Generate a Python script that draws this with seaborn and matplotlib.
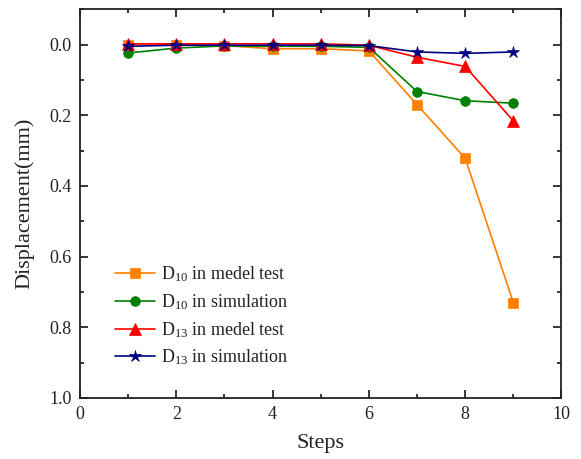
import matplotlib
matplotlib.use("Agg")
import matplotlib.pyplot as plt
import seaborn as sns
import pandas as pd
from matplotlib.ticker import MultipleLocator

steps = [1, 2, 3, 4, 5, 6, 7, 8, 9]
d10_test = [0.000, 0.000, 0.003, 0.012, 0.012, 0.018, 0.170, 0.322, 0.730]
d10_sim = [0.024, 0.010, 0.004, 0.005, 0.005, 0.008, 0.133, 0.159, 0.166]
d13_test = [-0.002, -0.002, -0.002, -0.002, -0.002, 0.002, 0.036, 0.062, 0.216]
d13_sim = [0.005, 0.002, 0.002, 0.002, 0.002, 0.003, 0.021, 0.025, 0.021]
labels = ["D$_{10}$ in medel test", "D$_{10}$ in simulation",
          "D$_{13}$ in medel test", "D$_{13}$ in simulation"]

sns.set_theme(style="ticks")
plt.rcParams["font.family"] = ["Liberation Serif", "DejaVu Serif"]
plt.rcParams["mathtext.fontset"] = "custom"
plt.rcParams["mathtext.rm"] = "Liberation Serif"
plt.rcParams["mathtext.it"] = "Liberation Serif:italic"

fig = plt.figure(figsize=(5.81, 4.59), dpi=100)
ax = fig.add_axes([0.1377, 0.133, 0.8287, 0.847])

series = [d10_test, d10_sim, d13_test, d13_sim]
colors = ["#FF8000", "#008000", "#FF0000", "#000080"]
markers = ["s", "o", "^", "*"]
msizes = [6.5, 7, 8, 9]
for vals, lab, c, m, ms in zip(series, labels, colors, markers, msizes):
    df = pd.DataFrame({"Steps": steps, "Displacement": vals})
    sns.lineplot(data=df, x="Steps", y="Displacement", ax=ax, color=c,
                 marker=m, markersize=ms, markeredgecolor=c,
                 markeredgewidth=0.5, linewidth=1.2, label=lab)

ax.set_xlim(0, 10)
ax.set_ylim(1.0, -0.1)
ax.xaxis.set_major_locator(MultipleLocator(2))
ax.xaxis.set_minor_locator(MultipleLocator(1))
ax.yaxis.set_major_locator(MultipleLocator(0.2))
ax.yaxis.set_minor_locator(MultipleLocator(0.1))
ax.set_yticks([0.0, 0.2, 0.4, 0.6, 0.8, 1.0])
ax.set_yticklabels(["0.0", "0.2", "0.4", "0.6", "0.8", "1.0"])
ax.tick_params(which="both", direction="in", top=True, right=True,
               labelsize=13, color="black", labelcolor="#222222", pad=6)
ax.tick_params(which="major", length=5.5, width=1.1)
ax.tick_params(which="minor", length=3, width=1.1)
for s in ax.spines.values():
    s.set_color("#222222")
    s.set_linewidth(1.3)

ax.set_xlabel("Steps", fontsize=16, labelpad=8, color="#222222")
ax.set_ylabel("Displacement(mm)", fontsize=16, labelpad=11, color="#222222")

ax.legend(loc="lower left", bbox_to_anchor=(0.058, 0.06), frameon=False,
          fontsize=13, handlelength=2.2, handletextpad=0.35,
          labelspacing=0.45, borderaxespad=0, labelcolor="#222222")

fig.savefig("out.png", dpi=100)
